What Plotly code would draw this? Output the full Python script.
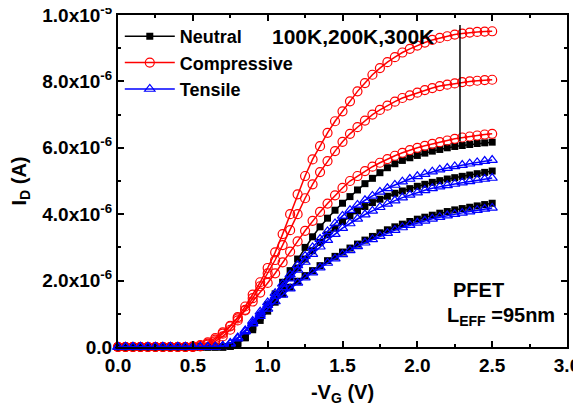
import plotly.graph_objects as go

# gate voltage magnitude (V)
vg = [0.00, 0.05, 0.10, 0.15, 0.20, 0.25, 0.30, 0.35, 0.40, 0.45,
      0.50, 0.55, 0.60, 0.65, 0.70, 0.75, 0.80, 0.85, 0.90, 0.95,
      1.00, 1.05, 1.10, 1.15, 1.20, 1.25, 1.30, 1.35, 1.40, 1.45,
      1.50, 1.55, 1.60, 1.65, 1.70, 1.75, 1.80, 1.85, 1.90, 1.95,
      2.00, 2.05, 2.10, 2.15, 2.20, 2.25, 2.30, 2.35, 2.40, 2.45, 2.50]

# drain current in uA (100K, 200K, 300K)
comp_100k = [0]*11 + [0.03, 0.1, 0.22, 0.4, 0.62, 0.9, 1.22, 1.58, 1.95, 2.38, 2.85, 3.4, 4.0, 4.6,
             5.15, 5.65, 6.05, 6.45, 6.8, 7.1, 7.4, 7.7, 7.95, 8.2, 8.4, 8.58, 8.73, 8.87, 8.98,
             9.08, 9.17, 9.25, 9.31, 9.36, 9.41, 9.44, 9.47, 9.49, 9.5, 9.51]
comp_200k = [0]*11 + [0.02, 0.07, 0.17, 0.32, 0.52, 0.8, 1.12, 1.47, 1.83, 2.22, 2.62, 3.07, 3.52, 4.0,
             4.48, 4.9, 5.27, 5.6, 5.9, 6.18, 6.42, 6.62, 6.82, 7.0, 7.14, 7.27, 7.39, 7.5, 7.58,
             7.66, 7.74, 7.8, 7.86, 7.9, 7.94, 7.98, 8.0, 8.02, 8.04, 8.05]
comp_300k = [0]*10 + [0.02, 0.06, 0.14, 0.27, 0.44, 0.64, 0.86, 1.1, 1.37, 1.64, 1.93, 2.22, 2.55, 2.87,
             3.18, 3.5, 3.8, 4.07, 4.32, 4.57, 4.79, 5.0, 5.15, 5.3, 5.43, 5.55, 5.66, 5.76, 5.85,
             5.93, 6.0, 6.06, 6.12, 6.17, 6.22, 6.27, 6.31, 6.34, 6.37, 6.4, 6.42]
neut_100k = [0]*15 + [0.03, 0.12, 0.3, 0.62, 0.95, 1.27, 1.6, 1.95, 2.3, 2.65, 3.0, 3.32, 3.62, 3.88,
             4.12, 4.33, 4.53, 4.73, 4.92, 5.08, 5.25, 5.4, 5.52, 5.62, 5.7, 5.77, 5.84, 5.9, 5.95,
             6.0, 6.04, 6.07, 6.1, 6.13, 6.15, 6.17]
neut_200k = [0]*15 + [0.02, 0.1, 0.28, 0.58, 0.9, 1.2, 1.5, 1.8, 2.1, 2.38, 2.65, 2.9, 3.15, 3.38,
             3.58, 3.78, 3.95, 4.1, 4.23, 4.35, 4.45, 4.54, 4.63, 4.7, 4.77, 4.84, 4.9, 4.96, 5.01,
             5.06, 5.1, 5.14, 5.18, 5.22, 5.26, 5.3]
neut_300k = [0]*15 + [0.03, 0.12, 0.28, 0.52, 0.8, 1.08, 1.35, 1.6, 1.8, 1.98, 2.15, 2.3, 2.45, 2.6,
             2.73, 2.86, 2.98, 3.1, 3.22, 3.33, 3.44, 3.53, 3.62, 3.7, 3.78, 3.85, 3.91, 3.97, 4.03,
             4.08, 4.13, 4.17, 4.21, 4.25, 4.29, 4.33]
tens_100k = [0]*14 + [0.03, 0.1, 0.28, 0.5, 0.78, 1.06, 1.34, 1.62, 1.9, 2.18, 2.46, 2.74, 3.0, 3.25,
             3.48, 3.72, 3.95, 4.12, 4.28, 4.42, 4.55, 4.67, 4.78, 4.88, 4.98, 5.06, 5.14, 5.21,
             5.28, 5.34, 5.39, 5.44, 5.48, 5.52, 5.56, 5.6, 5.63]
tens_200k = [0]*14 + [0.02, 0.1, 0.25, 0.46, 0.72, 0.99, 1.26, 1.53, 1.8, 2.06, 2.32, 2.56, 2.8, 3.02,
             3.22, 3.4, 3.58, 3.72, 3.86, 3.99, 4.1, 4.21, 4.31, 4.41, 4.5, 4.58, 4.65, 4.72, 4.78,
             4.83, 4.87, 4.91, 4.95, 4.99, 5.03, 5.06, 5.09]
tens_300k = [0]*14 + [0.03, 0.12, 0.28, 0.48, 0.7, 0.93, 1.15, 1.37, 1.57, 1.76, 1.93, 2.09, 2.24, 2.39,
             2.53, 2.66, 2.79, 2.91, 3.03, 3.14, 3.24, 3.34, 3.43, 3.52, 3.6, 3.67, 3.74, 3.8, 3.86,
             3.91, 3.96, 4.0, 4.04, 4.08, 4.12, 4.16, 4.19]

y_tickvals = [0, 2e-6, 4e-6, 6e-6, 8e-6, 1e-5]
y_ticktext = ["0.0", "2.0x10<sup>-6</sup>", "4.0x10<sup>-6</sup>", "6.0x10<sup>-6</sup>",
              "8.0x10<sup>-6</sup>", "1.0x10<sup>-5</sup>"]
x_tickvals = [0.0, 0.5, 1.0, 1.5, 2.0, 2.5, 3.0]

FONT = "Liberation Sans, Arial, sans-serif"

groups = [
    ("Neutral", [neut_100k, neut_200k, neut_300k],
     dict(symbol="square", color="black", size=7, line=dict(width=0)), "black"),
    ("Compressive", [comp_100k, comp_200k, comp_300k],
     dict(symbol="circle-open", color="red", size=9, line=dict(width=1.2, color="red")), "red"),
    ("Tensile", [tens_100k, tens_200k, tens_300k],
     dict(symbol="triangle-up-open", color="blue", size=9, line=dict(width=1.2, color="blue")), "blue"),
]

fig = go.Figure()
for name, series, marker, col in groups:
    for k, s in enumerate(series):
        fig.add_trace(go.Scatter(
            x=vg, y=[v * 1e-6 for v in s], mode="lines+markers",
            name=name, legendgroup=name, showlegend=(k == 0),
            line=dict(color=col, width=1.5), marker=marker, cliponaxis=False,
        ))

axis_common = dict(
    showline=True, linecolor="black", linewidth=2, mirror="ticks",
    ticks="inside", ticklen=6, tickwidth=1.5, tickcolor="black",
    showgrid=False, zeroline=False, automargin=False,
    ticklabeloverflow="allow",
    tickfont=dict(family=FONT, size=19, color="black", weight="bold"),
)

fig.update_xaxes(range=[0, 3], tickvals=x_tickvals, tickformat=".1f",
                 minor=dict(ticks="inside", ticklen=3, tickwidth=1.5, dtick=0.25, tickcolor="black"),
                 title=dict(text="-V<sub>G</sub> (V)", standoff=10,
                            font=dict(family=FONT, size=20, color="black", weight="bold")),
                 **axis_common)
fig.update_yaxes(range=[0, 1e-5], tickvals=y_tickvals, ticktext=y_ticktext,
                 minor=dict(ticks="inside", ticklen=3, tickwidth=1.5, tickvals=[1e-6, 3e-6, 5e-6, 7e-6, 9e-6], tickcolor="black"),
                 title=dict(text="I<sub>D</sub> (A)", standoff=10,
                            font=dict(family=FONT, size=20, color="black", weight="bold")),
                 **axis_common)

fig.add_shape(type="line", x0=2.285, x1=2.285, y0=6.2e-6, y1=9.7e-6,
              line=dict(color="black", width=1.5))

fig.add_annotation(x=1.57, y=9.34e-6, text="100K,200K,300K", showarrow=False,
                   font=dict(family=FONT, size=21, color="black", weight="bold"))
fig.add_annotation(x=2.41, y=1.72e-6, text="PFET", showarrow=False,
                   font=dict(family=FONT, size=20, color="black", weight="bold"))
fig.add_annotation(x=2.56, y=0.93e-6, text="L<sub>EFF</sub> =95nm", showarrow=False,
                   font=dict(family=FONT, size=20, color="black", weight="bold"))

# page body has an 8px margin; margins chosen so the plot frame lands where the reference has it
fig.update_layout(
    width=581, height=411,
    margin=dict(l=110, r=22, t=7, b=72),
    paper_bgcolor="white", plot_bgcolor="white",
    showlegend=True,
    legend=dict(x=0.004, y=0.991, xanchor="left", yanchor="top",
                bgcolor="rgba(0,0,0,0)", borderwidth=0,
                font=dict(family=FONT, size=18, color="black", weight="bold"),
                tracegroupgap=0, itemwidth=50),
)

fig.write_html("out.html")
